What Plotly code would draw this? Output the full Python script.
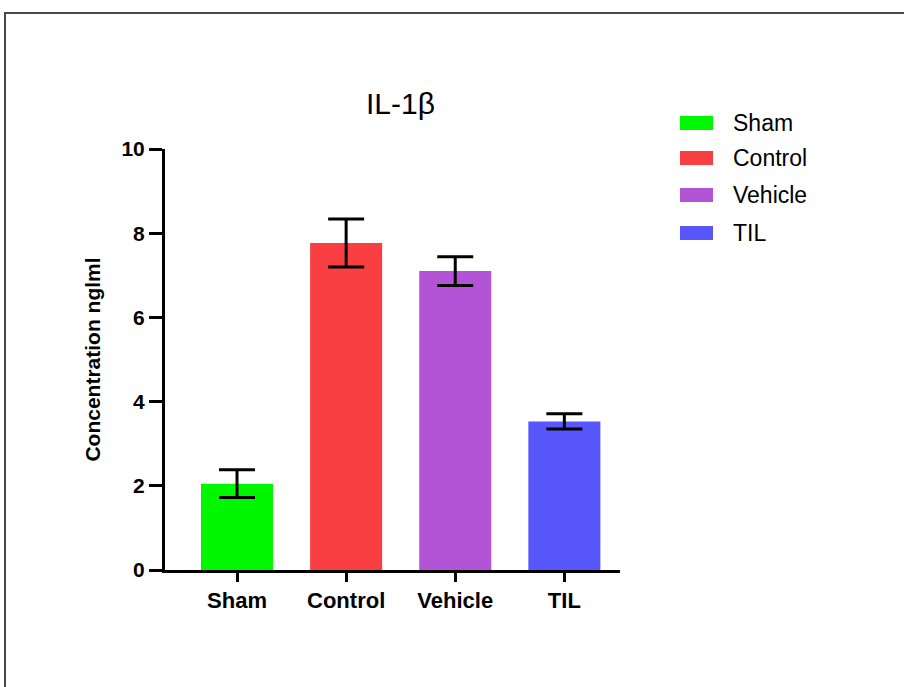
import plotly.graph_objects as go

categories = ["Sham", "Control", "Vehicle", "TIL"]
means = [2.05, 7.77, 7.10, 3.53]
errors = [0.33, 0.57, 0.34, 0.18]
colors = ["#00f700", "#f93f42", "#b354d6", "#5757fb"]
y_ticks = [0, 2, 4, 6, 8, 10]
title_text = "IL-1β"
y_title = "Concentration nglml"

W, H = 904, 687
L, R, T, B = 165, 620, 149, 570  # plot area in px

def px_x(px):
    return (px - L) / (R - L)

def px_y(py):
    return (B - py) / (B - T)

fig = go.Figure()
for i, c in enumerate(categories):
    fig.add_trace(go.Bar(
        x=[i], y=[means[i]], name=c,
        marker=dict(color=colors[i], line=dict(width=0)),
        width=0.66,
        error_y=dict(type="data", array=[errors[i]], visible=True,
                     color="black", thickness=3, width=18),
        showlegend=False,
    ))

font = "Arial, 'Liberation Sans', sans-serif"

shapes = []
annotations = []
# legend (custom, wide swatches)
row_y = [123, 158, 195, 233]
for i, c in enumerate(categories):
    shapes.append(dict(type="rect", xref="paper", yref="paper",
                       x0=px_x(680), x1=px_x(713),
                       y0=px_y(row_y[i] + 7), y1=px_y(row_y[i] - 7),
                       fillcolor=colors[i], line=dict(width=0)))
    annotations.append(dict(xref="paper", yref="paper", x=px_x(731), y=px_y(row_y[i]),
                            text=c, showarrow=False, xanchor="left", yanchor="middle",
                            font=dict(family=font, size=23, color="black")))

# outer frame
shapes.append(dict(type="rect", xref="paper", yref="paper",
                   x0=px_x(5), x1=px_x(915), y0=px_y(700), y1=px_y(13),
                   line=dict(color="#484848", width=2), fillcolor="rgba(0,0,0,0)",
                   layer="below"))

annotations.append(dict(xref="paper", yref="paper", x=px_x(400), y=px_y(103),
                        text=title_text, showarrow=False, xanchor="center", yanchor="middle",
                        font=dict(family=font, size=30, color="black")))

fig.update_layout(
    width=W, height=H,
    margin=dict(l=L, r=W - R, t=T, b=H - B, pad=0),
    paper_bgcolor="white", plot_bgcolor="white",
    bargap=0.34,
    shapes=shapes, annotations=annotations,
    font=dict(family=font, color="black"),
)
fig.update_xaxes(
    range=[-0.66, 3.51],
    tickmode="array", tickvals=list(range(len(categories))), ticktext=categories,
    showline=True, linecolor="black", linewidth=3,
    ticks="outside", ticklen=9, tickwidth=3, tickcolor="black",
    tickfont=dict(family=font, size=22, color="black", weight="bold"),
    showgrid=False, zeroline=False,
)
fig.update_yaxes(
    range=[0, 10],
    tickmode="array", tickvals=y_ticks,
    showline=True, linecolor="black", linewidth=3,
    ticks="outside", ticklen=13, tickwidth=3, tickcolor="black",
    tickfont=dict(family=font, size=21, color="black", weight="bold"),
    title=dict(text=y_title, font=dict(family=font, size=21, color="black", weight="bold"), standoff=16),
    showgrid=False, zeroline=False,
)

fig.write_html("out.html",
               config={"displayModeBar": False},
               post_script="document.body.style.margin='0';document.body.style.overflow='hidden';")
